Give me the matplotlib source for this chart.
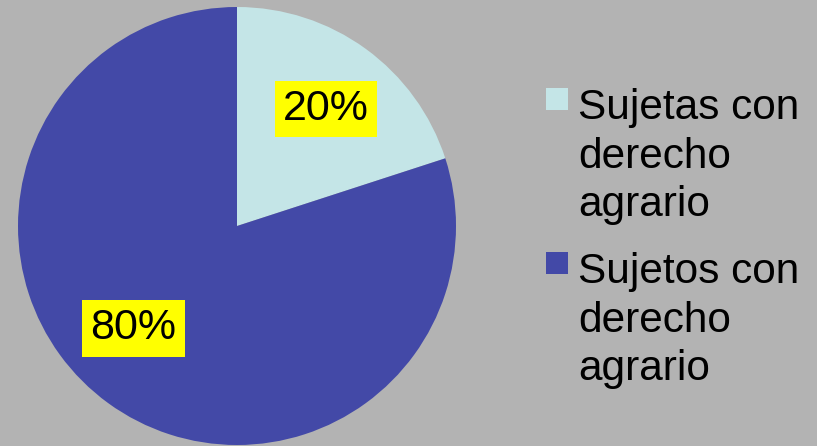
import matplotlib

matplotlib.use("Agg")

import numpy as np
import matplotlib.pyplot as plt
from matplotlib.patches import Rectangle

plt.rcParams["font.family"] = ["Liberation Sans", "DejaVu Sans"]

# data
labels = ["Sujetas con\nderecho\nagrario", "Sujetos con\nderecho\nagrario"]
shares = [20, 80]
pct_text = ["20%", "80%"]

colors = ["#c4e5e7", "#4349a7"]
bg = "#b3b3b3"

W, H = 817, 446
fig = plt.figure(figsize=(W / 100, H / 100), dpi=100, facecolor=bg)

# pie sits at centre (237, 226) px with radius 219 px
cx, cy, r = 237, 226, 219
ax = fig.add_axes([(cx - r) / W, (H - cy - r) / H, 2 * r / W, 2 * r / H])
ax.set_facecolor(bg)

wedges, _ = ax.pie(
    shares,
    colors=colors,
    startangle=90,
    counterclock=False,
    radius=1.0,
    wedgeprops={"linewidth": 0},
)
ax.set_xlim(-1, 1)
ax.set_ylim(-1, 1)
ax.set_aspect("equal")
ax.axis("off")

# label placement (Excel-style): distance and angle per slice
label_r = [0.67, 0.665]
label_ang = [52.7, 224.7]
for txt, lr, la in zip(pct_text, label_r, label_ang):
    a = np.deg2rad(la)
    ax.text(
        lr * np.cos(a),
        lr * np.sin(a),
        txt,
        ha="center",
        va="center",
        fontsize=31,
        color="black",
        bbox=dict(boxstyle="square,pad=0.19", facecolor="#ffff00", edgecolor="none"),
    )

# legend, drawn by hand so the swatch sits on the first text line
leg_x, leg_top, entry_h, sw = 546, 88, 164, 22
for i, (lab, col) in enumerate(zip(labels, colors)):
    top = leg_top + i * entry_h
    fig.patches.append(
        Rectangle(
            (leg_x / W, 1 - (top + sw) / H),
            sw / W,
            sw / H,
            transform=fig.transFigure,
            facecolor=col,
            edgecolor="none",
        )
    )
    fig.text(
        (leg_x + sw + 10) / W,
        1 - top / H,
        lab,
        ha="left",
        va="top",
        fontsize=30.5,
        linespacing=1.28,
        color="black",
    )

fig.savefig("out.png", dpi=100, facecolor=fig.get_facecolor())
